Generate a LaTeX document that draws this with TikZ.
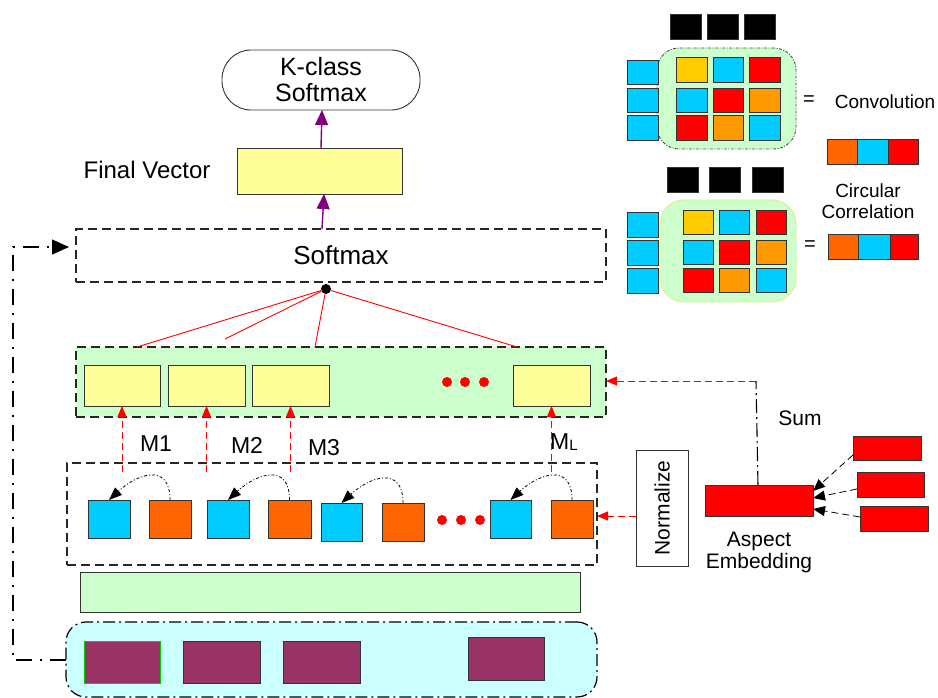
\documentclass[tikz,border=0pt]{standalone}
\usepackage{fontspec}
\setmainfont{Liberation Sans}
\usetikzlibrary{arrows.meta,calc}
\definecolor{cyel}{HTML}{FFFF99}
\definecolor{cgrn}{HTML}{CCFFCC}
\definecolor{ccyan}{HTML}{CCFFFF}
\definecolor{cblue}{HTML}{00CCFF}
\definecolor{corg}{HTML}{FF6600}
\definecolor{corg2}{HTML}{FF9900}
\definecolor{cgold}{HTML}{FFCC00}
\definecolor{cred}{HTML}{FF0000}
\definecolor{cplum}{HTML}{993366}
\definecolor{cpurp}{HTML}{800080}
\newcommand\rb[7]{%
  \pgfmathsetmacro\rbcx{(#3+#5)/2}\pgfmathsetmacro\rbcy{(#4+#6)/2}%
  \pgfmathsetmacro\rbw{#5-#3}\pgfmathsetmacro\rbh{#6-#4}%
  \node[#2,minimum width=\rbw pt,minimum height=\rbh pt] (#1) at (\rbcx,\rbcy) {#7};}
\newcommand\fsz[1]{\fontsize{#1}{#1}\selectfont}
\begin{document}
\begin{tikzpicture}[x=1pt,y=-1pt,
  bx/.style={draw=black!80,inner sep=0pt,outer sep=0pt,line width=0.9pt},
  dbox/.style={bx,draw=black!85,line width=1.3pt,dash pattern=on 9pt off 5pt},
  ddbox/.style={bx,draw=black,line width=1.2pt,dash pattern=on 12pt off 4pt on 2pt off 4pt},
  purparr/.style={draw=cpurp,line width=1.4pt,-{Triangle[length=15pt,width=13pt]}},
  redln/.style={draw=cred,line width=0.9pt},
  redarr/.style={draw=cred,line width=0.9pt,dash pattern=on 7pt off 4pt,-{Triangle[length=11pt,width=9pt]}},
  dashdot/.style={draw=black,line width=1.1pt,dash pattern=on 16pt off 8pt on 2pt off 8pt},
  tri/.style={-{Triangle[length=17pt,width=15pt]}},
  curv/.style={draw=black,line width=0.8pt,dash pattern=on 3pt off 2pt on 1pt off 2pt,-{Triangle[length=13pt,width=10pt]}},
  blk/.style={arrows={-{Triangle[length=12pt,width=10pt]}},draw=black,line width=0.8pt,dash pattern=on 7pt off 4pt},
  rdot/.style={circle,fill=cred,inner sep=0pt,minimum size=10pt},
  txt/.style={inner sep=0pt,font=\fsz{21}}
]
\useasboundingbox (0,0) rectangle (938,698);

% ---------- top ----------
\rb{ks}{bx,rounded corners=29pt}{222}{50}{420}{110}{}
\node[align=center,inner sep=0pt,font=\fsz{25}] (kst) at (ks) {K-class\\[1pt]Softmax};
\rb{fv}{bx,fill=cyel}{237}{148}{402}{194}{}
\node[txt,font=\fsz{24}] (fvt) at (147,170) {Final Vector};
\rb{sm}{dbox}{76}{229}{606}{282}{}
\node[txt,font=\fsz{26}] (smt) at (341,255) {Softmax};
\draw[purparr] (fv.north -| 321,0) -- (ks.south -| 322,0);
\draw[purparr] (sm.north -| 322,0) -- (fv.south -| 324,0);

\node[circle,fill=black,inner sep=0pt,minimum size=10pt] (dot) at (326,289) {};

% ---------- green attention layer ----------
\rb{gl}{dbox,fill=cgrn}{76}{347}{606}{417}{}
\rb{y1}{bx,fill=cyel}{84}{365}{160}{406}{}
\rb{y2}{bx,fill=cyel}{168}{365}{245}{406}{}
\rb{y3}{bx,fill=cyel}{252}{365}{329}{406}{}
\rb{y4}{bx,fill=cyel}{513}{365}{590}{406}{}
\node[rdot] (gd1) at (447,382) {};
\node[rdot] (gd2) at (465,382) {};
\node[rdot] (gd3) at (484,382) {};

\coordinate (r1) at (137,347);
\coordinate (r2) at (225,339);
\coordinate (r3) at (315,347);
\coordinate (r4) at (517,347);
\draw[redln] (dot) -- (r1);
\draw[redln] (dot) -- (r2);
\draw[redln] (dot) -- (r3);
\draw[redln] (dot) -- (r4);

% ---------- memory layer ----------
\rb{ml}{dbox}{67}{463}{597}{565}{}
\rb{b1}{bx,fill=cblue}{88}{500}{130}{538}{}
\rb{o1}{bx,fill=corg}{149}{500}{191}{538}{}
\rb{b2}{bx,fill=cblue}{207}{500}{249}{538}{}
\rb{o2}{bx,fill=corg}{268}{500}{311}{538}{}
\rb{b3}{bx,fill=cblue}{321}{503}{362}{541}{}
\rb{o3}{bx,fill=corg}{382}{503}{424}{541}{}
\rb{b4}{bx,fill=cblue}{490}{500}{531}{538}{}
\rb{o4}{bx,fill=corg}{551}{500}{593}{538}{}
\node[rdot] (md1) at (442,520) {};
\node[rdot] (md2) at (461,520) {};
\node[rdot] (md3) at (480,520) {};

\draw[curv] (o1.north) .. controls +(0,-38) and +(28,-26) .. (b1.north);
\draw[curv] (o2.north) .. controls +(0,-38) and +(28,-26) .. (b2.north);
\draw[curv] (o3.north) .. controls +(0,-38) and +(28,-26) .. (b3.north);
\draw[curv] (o4.north) .. controls +(0,-38) and +(28,-26) .. (b4.north);

\draw[redarr] ($(y1.south)+(0,66)$) -- (y1.south);
\draw[redarr] ($(y2.south)+(0,66)$) -- (y2.south);
\draw[redarr] ($(y3.south)+(0,66)$) -- (y3.south);
\draw[redarr] ($(y4.south)+(0,66)$) -- (y4.south);

\node[txt,font=\fsz{23}] (m1) at (156,444) {M1};
\node[txt,font=\fsz{23}] (m2) at (247,445) {M2};
\node[txt,font=\fsz{23}] (m3) at (324,448) {M3};
\node[txt,font=\fsz{23},anchor=west] (mL) at (550,442) {M\raisebox{-1pt}{\fsz{15}L}};

% ---------- normalize / aspect ----------
\rb{nz}{bx}{636}{450}{688}{566}{}
\node[txt,rotate=90] (nzt) at (nz) {Normalize};
\draw[redarr] (nz.west |- 0,516) -- (ml.east |- 0,516);

\rb{ae}{bx,fill=cred}{705}{485}{813}{516}{}
\node[txt,align=center] (aet) at (759,552) {Aspect\\[1pt]Embedding};
\rb{s1}{bx,fill=cred}{853}{436}{921}{460}{}
\rb{s2}{bx,fill=cred}{857}{472}{924}{497}{}
\rb{s3}{bx,fill=cred}{860}{506}{928}{531}{}
\draw[blk] (s1.west |- 0,455) -- (ae.east |- 0,491);
\draw[blk] (s2.west |- 0,489) -- (ae.east |- 0,498);
\draw[blk] (s3.west |- 0,517) -- (ae.east |- 0,509);

\coordinate (sumc) at (756,381);
\draw[dashdot,dash pattern=on 14pt off 4pt on 2pt off 4pt] (ae.north -| 758,0) -- (sumc);
\draw[redarr] (sumc) -- (gl.east |- sumc);
\node[txt] (sumt) at (800,418) {Sum};

% ---------- bottom ----------
\rb{gb}{bx,fill=cgrn}{80}{572}{580}{612}{}
\rb{cy}{ddbox,fill=ccyan,rounded corners=20pt}{66}{622}{597}{697}{}
\rb{p1}{bx,draw=green!80!black,fill=cplum}{84}{641}{160}{683}{}
\rb{p2}{bx,fill=cplum}{183}{641}{260}{683}{}
\rb{p3}{bx,fill=cplum}{283}{641}{360}{683}{}
\rb{p4}{bx,fill=cplum}{468}{637}{544}{680}{}

\coordinate (fb) at (13,247);
\coordinate (fbend) at (69,247);
\draw[dashdot,tri] (cy.west |- 0,660) -| (fb) -- (fbend);

% ---------- right panel: convolution ----------
\rb{k1}{bx,fill=black}{670}{14}{701}{39}{}
\rb{k2}{bx,fill=black}{707}{14}{738}{39}{}
\rb{k3}{bx,fill=black}{744}{14}{775}{39}{}
\rb{cg}{bx,draw=black!70,fill=cgrn,rounded corners=22pt,dash pattern=on 3pt off 1.5pt on 1pt off 1.5pt}{657}{48}{796}{149}{}
\rb{v1}{bx,fill=cblue}{627}{60}{658}{84}{}
\rb{v2}{bx,fill=cblue}{627}{88}{658}{112}{}
\rb{v3}{bx,fill=cblue}{627}{115}{658}{140}{}
\rb{g11}{bx,fill=cgold}{676}{57}{707}{82}{}
\rb{g12}{bx,fill=cblue}{713}{57}{743}{82}{}
\rb{g13}{bx,fill=cred}{749}{57}{780}{82}{}
\rb{g21}{bx,fill=cblue}{676}{88}{707}{112}{}
\rb{g22}{bx,fill=cred}{713}{88}{743}{112}{}
\rb{g23}{bx,fill=corg2}{749}{88}{780}{112}{}
\rb{g31}{bx,fill=cred}{676}{115}{707}{140}{}
\rb{g32}{bx,fill=corg2}{713}{115}{743}{140}{}
\rb{g33}{bx,fill=cblue}{749}{115}{780}{140}{}
\node[txt,font=\fsz{20}] (eq1) at (809,101) {=};
\node[txt,font=\fsz{19}] (conv) at (885,102) {Convolution};
\rb{c1}{bx,fill=corg}{827}{139}{857}{164}{}
\rb{c2}{bx,fill=cblue}{857}{139}{888}{164}{}
\rb{c3}{bx,fill=cred}{888}{139}{918}{164}{}

% ---------- right panel: circular correlation ----------
\rb{k4}{bx,fill=black}{667}{167}{698}{192}{}
\rb{k5}{bx,fill=black}{709}{167}{740}{192}{}
\rb{k6}{bx,fill=black}{752}{167}{783}{192}{}
\node[txt,font=\fsz{19},align=center] (cc) at (868,201) {Circular\\[2pt]Correlation};
\rb{cg2}{bx,draw=yellow!30!cgrn,fill=cgrn,rounded corners=24pt}{660}{200}{796}{302}{}
\rb{w1}{bx,fill=cblue}{627}{212}{658}{237}{}
\rb{w2}{bx,fill=cblue}{627}{240}{658}{265}{}
\rb{w3}{bx,fill=cblue}{627}{268}{658}{293}{}
\rb{h11}{bx,fill=cgold}{683}{210}{713}{234}{}
\rb{h12}{bx,fill=cblue}{719}{210}{749}{234}{}
\rb{h13}{bx,fill=cred}{756}{210}{786}{234}{}
\rb{h21}{bx,fill=cblue}{683}{240}{713}{264}{}
\rb{h22}{bx,fill=cred}{719}{240}{749}{264}{}
\rb{h23}{bx,fill=corg2}{756}{240}{786}{264}{}
\rb{h31}{bx,fill=cred}{683}{268}{713}{292}{}
\rb{h32}{bx,fill=corg2}{719}{268}{749}{292}{}
\rb{h33}{bx,fill=cblue}{756}{268}{786}{292}{}
\node[txt,font=\fsz{20}] (eq2) at (810,246) {=};
\rb{d1}{bx,fill=corg}{828}{234}{858}{259}{}
\rb{d2}{bx,fill=cblue}{858}{234}{890}{259}{}
\rb{d3}{bx,fill=cred}{890}{234}{918}{259}{}
\end{tikzpicture}
\end{document}
